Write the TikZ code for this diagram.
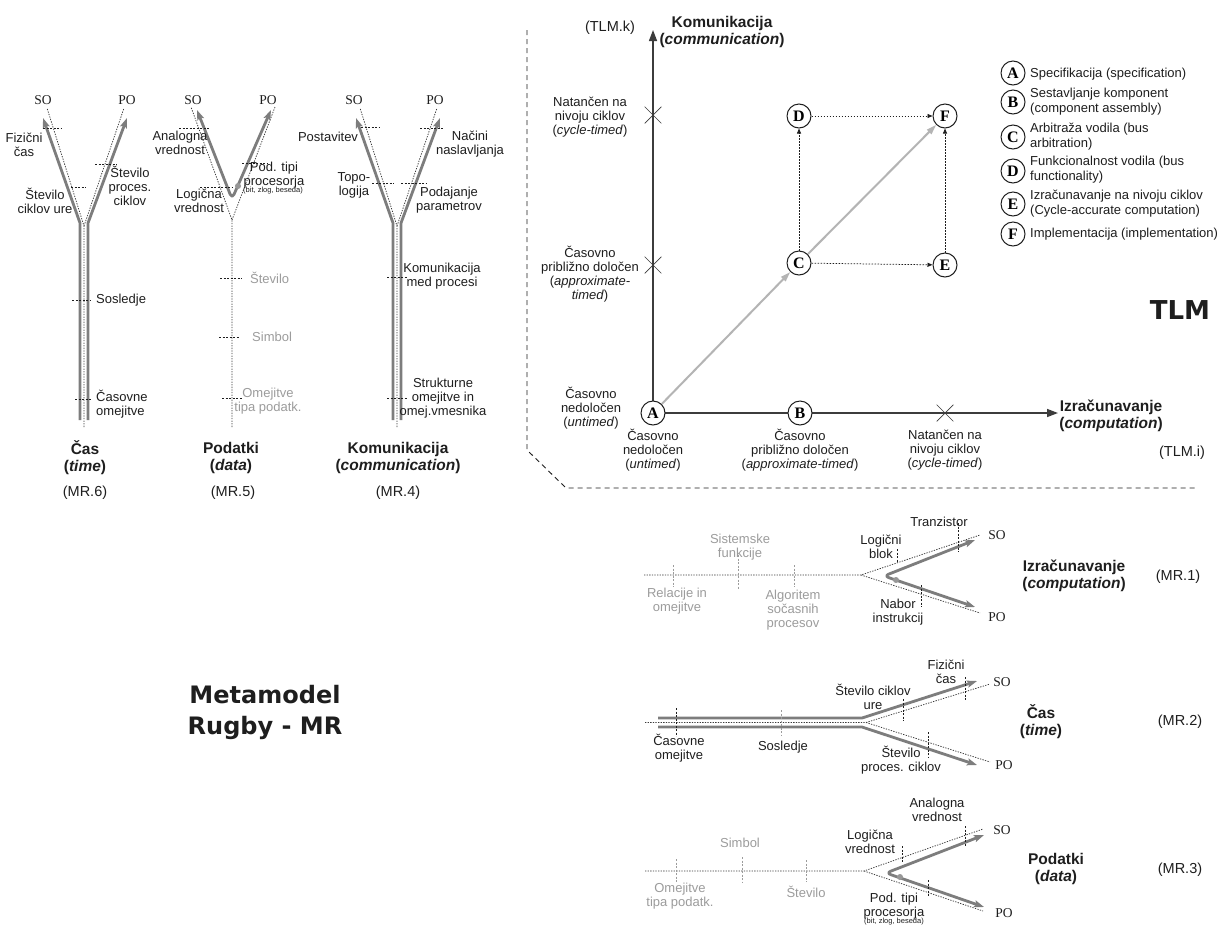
\documentclass[tikz,border=0pt]{standalone}
\usepackage{fontspec}
\setmainfont{Liberation Sans}
\newfontfamily\timesfam{Liberation Serif}
\newfontfamily\vfam{DejaVu Sans}
\usetikzlibrary{arrows.meta,shapes.misc}

\definecolor{armgray}{HTML}{7D7D7D}
\definecolor{paleink}{HTML}{9C9C9C}
\definecolor{pathgray}{HTML}{B4B4B4}
\definecolor{axisink}{HTML}{3C3C3C}
\definecolor{ink}{HTML}{1E1E1E}
\definecolor{dotink}{HTML}{3A3A3A}

\newcommand\fsLab{\fontsize{13}{14}\selectfont}
\newcommand\fsRef{\fontsize{14.5}{15}\selectfont}
\newcommand\fsLeg{\fontsize{13}{15}\selectfont}
\newcommand\fsTiny{\fontsize{7.5}{8}\selectfont}
\newcommand\fsHead{\fontsize{15.5}{17}\selectfont\bfseries}
\newcommand\fsBig{\vfam\fontsize{24}{31}\selectfont\bfseries}
\newcommand\fsTLM{\vfam\fontsize{26}{26}\selectfont\bfseries}
\newcommand\fsSP{\timesfam\fontsize{13.5}{13.5}\selectfont}
\newcommand\fsLetter{\timesfam\fontsize{16}{16}\selectfont\bfseries}

\tikzset{
  lbl/.style={font=\fsLab, text=ink, align=center, inner sep=0pt},
  plbl/.style={lbl, text=paleink},
  reflbl/.style={font=\fsRef, text=ink, inner sep=0pt},
  leg/.style={font=\fsLeg, text=ink, align=left, anchor=west, inner sep=0pt},
  head/.style={font=\fsHead, text=ink, align=center, inner sep=0pt},
  sopo/.style={font=\fsSP, text=ink, inner sep=0pt},
  tickm/.style={draw=ink, line width=0.75pt, dash pattern=on 2pt off 1.5pt},
  ptickm/.style={draw=paleink, line width=0.75pt, dash pattern=on 2pt off 1.5pt},
  dotl/.style={draw=dotink, line width=0.75pt, dash pattern=on 1.3pt off 1.3pt},
  armline/.style={draw=armgray, line width=2.8pt, line join=round},
  armarrow/.style={armline, -{Stealth[length=10pt,width=7pt,inset=2pt]}},
  armboth/.style={armline, {Stealth[length=10pt,width=7pt,inset=2pt]}-{Stealth[length=10pt,width=7pt,inset=2pt]}, rounded corners=5pt},
  startdot/.style={circle, fill=armgray!80, minimum size=6pt, inner sep=0pt},
  cnode/.style={circle, draw=ink, line width=1pt, fill=white, minimum size=24pt, inner sep=0pt, font=\fsLetter},
  axisl/.style={draw=axisink, line width=1.4pt},
  axistip/.style={axisl, -{Triangle[length=11pt,width=8pt]}},
  lightarr/.style={draw=pathgray, line width=2pt, -{Triangle[length=10pt,width=6pt]}},
  dotarr/.style={draw=ink, line width=0.75pt, dash pattern=on 1.5pt off 1.5pt, -{Triangle[length=5pt,width=4pt]}},
  sepl/.style={draw=ink, line width=0.9pt, dash pattern=on 5pt off 4pt},
  crossm/.style={cross out, draw=axisink, line width=0.7pt, minimum size=16pt, inner sep=0pt},
}

\begin{document}
\begin{tikzpicture}[x=1pt,y=-1pt]
\fill[white] (0,0) rectangle (1223,927);
\useasboundingbox (0,0) rectangle (1223,927);

% ---------------- Cas (MR.6) ----------------
\coordinate (cL0) at (80,420);  \coordinate (cLf) at (80,223);  \coordinate (cSO) at (43,118);
\coordinate (cR0) at (88,420);  \coordinate (cRf) at (88,223);  \coordinate (cPO) at (127,118);
\coordinate (cC0) at (84,427);  \coordinate (cCf) at (84,226);
\coordinate (cdS) at (47,108);  \coordinate (cdP) at (124,108);
\draw[dotl] (cC0) -- (cCf) -- (cdS);
\draw[dotl] (cCf) -- (cdP);
\draw[armarrow] (cL0) -- (cLf) -- (cSO);
\draw[armarrow] (cR0) -- (cRf) -- (cPO);
\node[sopo] (c-so) at (43,100) {SO};
\node[sopo] (c-po) at (127,100) {PO};
\draw[tickm] (43,128) -- (62,128);
\draw[tickm] (71,187) -- (86,187);
\draw[tickm] (95,164) -- (117,164);
\draw[tickm] (72,300) -- (91,300);
\draw[tickm] (75,399) -- (92,399);
\node[lbl] (c-fiz) at (24,145) {Fizični\\čas};
\node[lbl] (c-scu) at (45,201) {Število\\ciklov ure};
\node[lbl] (c-spc) at (130,186) {Število\\proces.\\ciklov};
\node[lbl, anchor=west] (c-sos) at (96,300) {Sosledje};
\node[lbl, anchor=west, align=left] (c-com) at (96,404) {Časovne\\omejitve};
\node[head] (c-ttl) at (85,458) {Čas\\(\textit{time})};
\node[reflbl] (c-mr) at (85,493) {(MR.6)};

% ---------------- Podatki (MR.5) ----------------
\coordinate (dC0) at (232,427); \coordinate (dCf) at (232,220);
\coordinate (ddS) at (191,107); \coordinate (ddP) at (275,107);
\draw[dotl] (dC0) -- (dCf) -- (ddS);
\draw[dotl] (dCf) -- (ddP);
\coordinate (dSO) at (197,110); \coordinate (dBot) at (232,199); \coordinate (dPO) at (271,110);
\draw[armboth] (dSO) -- (dBot) -- (dPO);
\node[startdot] (d-dot) at (238,186) {};
\node[sopo] (d-so) at (193,100) {SO};
\node[sopo] (d-po) at (268,100) {PO};
\draw[tickm] (179,128) -- (209,128);
\draw[tickm] (200,187) -- (232,187);
\draw[tickm] (242,163) -- (267,163);
\draw[tickm] (220,278) -- (242,278);
\draw[tickm] (219,337) -- (240,337);
\draw[tickm] (222,398) -- (242,398);
\node[lbl] (d-ana) at (180,143) {Analogna\\vrednost};
\node[lbl] (d-log) at (199,201) {Logična\\vrednost};
\node[lbl] (d-pod) at (274,175) {Pod. tipi\\procesorja};
\node[lbl, font=\fsTiny] (d-bit) at (273,191) {(bit, zlog, beseda)};
\node[plbl, anchor=west] (d-stv) at (250,278) {Število};
\node[plbl, anchor=west] (d-sim) at (252,337) {Simbol};
\node[plbl] (d-ome) at (268,401) {Omejitve\\tipa podatk.};
\node[head] (d-ttl) at (231,458) {Podatki\\(\textit{data})};
\node[reflbl] (d-mr) at (233,493) {(MR.5)};

% ---------------- Komunikacija (MR.4) ----------------
\coordinate (kL0) at (393,420); \coordinate (kLf) at (393,223); \coordinate (kSO) at (356,118);
\coordinate (kR0) at (401,420); \coordinate (kRf) at (401,223); \coordinate (kPO) at (440,118);
\coordinate (kC0) at (397,427); \coordinate (kCf) at (397,226);
\coordinate (kdS) at (360,108); \coordinate (kdP) at (437,108);
\draw[dotl] (kC0) -- (kCf) -- (kdS);
\draw[dotl] (kCf) -- (kdP);
\draw[armarrow] (kL0) -- (kLf) -- (kSO);
\draw[armarrow] (kR0) -- (kRf) -- (kPO);
\node[sopo] (k-so) at (354,100) {SO};
\node[sopo] (k-po) at (435,100) {PO};
\draw[tickm] (361,127) -- (379,127);
\draw[tickm] (420,128) -- (443,128);
\draw[tickm] (372,183) -- (394,183);
\draw[tickm] (401,183) -- (427,183);
\draw[tickm] (387,277) -- (407,277);
\draw[tickm] (387,398) -- (407,398);
\node[lbl] (k-pos) at (328,137) {Postavitev};
\node[lbl] (k-nac) at (470,144) {Načini\\naslavljanja};
\node[lbl] (k-top) at (354,185) {Topo-\\logija};
\node[lbl] (k-pod) at (449,200) {Podajanje\\parametrov};
\node[lbl] (k-kom) at (442,276) {Komunikacija\\med procesi};
\node[lbl] (k-str) at (443,398) {Strukturne\\omejitve in\\omej.vmesnika};
\node[head] (k-ttl) at (398,458) {Komunikacija\\(\textit{communication})};
\node[reflbl] (k-mr) at (398,493) {(MR.4)};

% ---------------- TLM ----------------
\draw[sepl] (527,30) -- (527,450) -- (566,488) -- (1197,488);

\coordinate (ytip) at (653,30);
\coordinate (xtip) at (1058,413);
\draw[axistip] (653,413) -- (ytip);
\draw[axistip] (653,413) -- (xtip);
\node[crossm] (ky1) at (653,115) {};
\node[crossm] (ky2) at (653,265) {};
\node[crossm] (kx3) at (945,413) {};

\node[cnode] (A) at (653,413) {A};
\node[cnode] (B) at (800,413) {B};
\node[cnode] (C) at (799,263) {C};
\node[cnode] (D) at (799,116) {D};
\node[cnode] (E) at (945,265) {E};
\node[cnode] (F) at (945,116) {F};

\draw[lightarr] (A) -- (C);
\draw[lightarr] (C) -- (F);
\draw[dotarr] (C) -- (D);
\draw[dotarr] (D) -- (F);
\draw[dotarr] (C) -- (E);
\draw[dotarr] (E) -- (F);

\node[reflbl] (tk) at (610,28) {(TLM.k)};
\node[head] (tk-ttl) at (722,32) {Komunikacija\\(\textit{communication})};
\node[lbl] (ty1) at (590,117) {Natančen na\\nivoju ciklov\\(\textit{cycle-timed})};
\node[lbl] (ty2) at (590,274) {Časovno\\približno določen\\(\textit{approximate-}\\\textit{timed})};
\node[lbl] (ty0) at (591,408) {Časovno\\nedoločen\\(\textit{untimed})};
\node[lbl] (tx0) at (653,450) {Časovno\\nedoločen\\(\textit{untimed})};
\node[lbl] (tx1) at (800,450) {Časovno\\približno določen\\(\textit{approximate-timed})};
\node[lbl] (tx2) at (945,450) {Natančen na\\nivoju ciklov\\(\textit{cycle-timed})};
\node[head] (tx-ttl) at (1111,416) {Izračunavanje\\(\textit{computation})};
\node[reflbl] (ti) at (1182,453) {(TLM.i)};
\node[font=\fsTLM, text=ink, inner sep=0pt] (tlm) at (1180,310) {TLM};

% legend
\node[cnode] (lA) at (1013,73) {A};
\node[cnode] (lB) at (1013,102) {B};
\node[cnode] (lC) at (1013,137) {C};
\node[cnode] (lD) at (1013,171) {D};
\node[cnode] (lE) at (1013,204) {E};
\node[cnode] (lF) at (1013,234) {F};
\node[leg] (gA) at (1030,74) {Specifikacija (specification)};
\node[leg] (gB) at (1030,102) {Sestavljanje komponent\\(component assembly)};
\node[leg] (gC) at (1030,137) {Arbitraža vodila (bus\\arbitration)};
\node[leg] (gD) at (1030,170) {Funkcionalnost vodila (bus\\functionality)};
\node[leg] (gE) at (1030,204) {Izračunavanje na nivoju ciklov\\(Cycle-accurate computation)};
\node[leg] (gF) at (1030,234) {Implementacija (implementation)};

% ---------------- Metamodel title ----------------
\node[font=\fsBig, text=ink, align=center, inner sep=0pt] (mm) at (265,712) {Metamodel\\Rugby - MR};

% ---------------- MR.1 Izracunavanje ----------------
\coordinate (m1s) at (644,575); \coordinate (m1v) at (861,575);
\coordinate (m1dS) at (980,535); \coordinate (m1dP) at (980,613);
\draw[dotl] (m1s) -- (m1v) -- (m1dS);
\draw[dotl] (m1v) -- (m1dP);
\coordinate (m1SO) at (975,540); \coordinate (m1B) at (884,576); \coordinate (m1PO) at (975,607);
\draw[armboth] (m1SO) -- (m1B) -- (m1PO);
\node[startdot] (m1dot) at (896,580) {};
\draw[ptickm] (673,565) -- (673,587);
\draw[ptickm] (738,555) -- (738,590);
\draw[ptickm] (794,565) -- (794,587);
\draw[tickm] (897,549) -- (897,563);
\draw[tickm] (958,523) -- (958,552);
\draw[tickm] (921,585) -- (921,607);
\node[plbl] (m1sf) at (740,547) {Sistemske\\funkcije};
\node[plbl] (m1ro) at (677,601) {Relacije in\\omejitve};
\node[plbl] (m1as) at (793,610) {Algoritem\\sočasnih\\procesov};
\node[lbl] (m1tr) at (939,522) {Tranzistor};
\node[lbl] (m1lb) at (881,547) {Logični\\blok};
\node[lbl] (m1ni) at (898,612) {Nabor\\instrukcij};
\node[sopo] (m1so) at (997,535) {SO};
\node[sopo] (m1po) at (997,617) {PO};
\node[head] (m1ttl) at (1074,576) {Izračunavanje\\(\textit{computation})};
\node[reflbl] (m1mr) at (1178,577) {(MR.1)};

% ---------------- MR.2 Cas ----------------
\coordinate (m2a0) at (658,718); \coordinate (m2af) at (862,718); \coordinate (m2SO) at (977,681);
\coordinate (m2b0) at (658,727); \coordinate (m2bf) at (862,727); \coordinate (m2PO) at (977,765);
\coordinate (m2c0) at (645,722.5); \coordinate (m2cf) at (866,722.5);
\coordinate (m2dS) at (990,684); \coordinate (m2dP) at (990,762);
\draw[dotl] (m2c0) -- (m2cf) -- (m2dS);
\draw[dotl] (m2cf) -- (m2dP);
\draw[armarrow] (m2a0) -- (m2af) -- (m2SO);
\draw[armarrow] (m2b0) -- (m2bf) -- (m2PO);
\draw[tickm] (676,708) -- (676,736);
\draw[ptickm] (781,710) -- (781,735);
\draw[tickm] (903,699) -- (903,721);
\draw[tickm] (965,677) -- (965,701);
\draw[tickm] (928,732) -- (928,757);
\node[lbl] (m2co) at (679,748) {Časovne\\omejitve};
\node[lbl] (m2so2) at (783,747) {Sosledje};
\node[lbl] (m2sc) at (873,697) {Število ciklov\\ure};
\node[lbl] (m2fc) at (946,672) {Fizični\\čas};
\node[lbl] (m2sp) at (901,760) {Število\\proces. ciklov};
\node[sopo] (m2so) at (1002,682) {SO};
\node[sopo] (m2po) at (1004,765) {PO};
\node[head] (m2ttl) at (1041,722) {Čas\\(\textit{time})};
\node[reflbl] (m2mr) at (1180,722) {(MR.2)};

% ---------------- MR.3 Podatki ----------------
\coordinate (m3s) at (645,871); \coordinate (m3v) at (864,871);
\coordinate (m3dS) at (983,829); \coordinate (m3dP) at (983,911);
\draw[dotl] (m3s) -- (m3v) -- (m3dS);
\draw[dotl] (m3v) -- (m3dP);
\coordinate (m3SO) at (984,835); \coordinate (m3B) at (886,873); \coordinate (m3PO) at (984,907);
\draw[armboth] (m3SO) -- (m3B) -- (m3PO);
\node[startdot] (m3dot) at (900,877) {};
\draw[ptickm] (676,859) -- (676,883);
\draw[ptickm] (742,857) -- (742,882);
\draw[ptickm] (806,860) -- (806,882);
\draw[tickm] (902,846) -- (902,862);
\draw[tickm] (965,826) -- (965,847);
\draw[tickm] (928,880) -- (928,897);
\node[plbl] (m3sim) at (740,843) {Simbol};
\node[plbl] (m3ome) at (680,896) {Omejitve\\tipa podatk.};
\node[plbl] (m3stv) at (806,892) {Število};
\node[lbl] (m3ana) at (937,810) {Analogna\\vrednost};
\node[lbl] (m3log) at (870,842) {Logična\\vrednost};
\node[lbl] (m3pod) at (894,906) {Pod. tipi\\procesorja};
\node[lbl, font=\fsTiny] (m3bit) at (894,922) {(bit, zlog, beseda)};
\node[sopo] (m3so) at (1002,830) {SO};
\node[sopo] (m3po) at (1004,913) {PO};
\node[head] (m3ttl) at (1056,869) {Podatki\\(\textit{data})};
\node[reflbl] (m3mr) at (1180,870) {(MR.3)};

\end{tikzpicture}
\end{document}
